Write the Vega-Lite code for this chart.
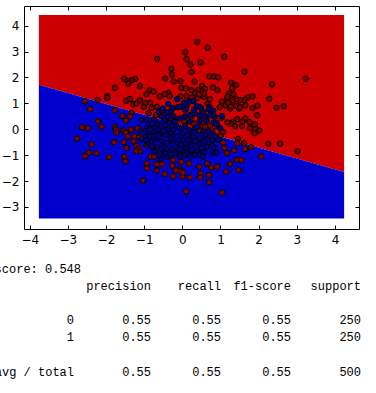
{
  "$schema": "https://vega.github.io/schema/vega-lite/v6.json",
  "autosize": {"type": "none"},
  "padding": {"left": 24, "top": 6, "right": 17, "bottom": 164},
  "width": 335,
  "height": 223,
  "background": "white",
  "config": {
    "view": {"stroke": "black", "strokeWidth": 1},
    "axis": {"grid": false, "domain": false, "tickColor": "black", "tickWidth": 1, "tickSize": -4, "labelPadding": 9, "labelColor": "black", "labelFont": "DejaVu Sans", "labelFontSize": 12, "labelFlush": false, "labelOverlap": false, "labelBound": false, "title": null}
  },
  "datasets": {
    "regions": [
      {"x": -3.76, "lo": 1.715, "hi": 4.41, "region": "1"},
      {"x": 4.24, "lo": -1.65, "hi": 4.41, "region": "1"},
      {"x": -3.76, "lo": -3.44, "hi": 1.715, "region": "0"},
      {"x": 4.24, "lo": -3.44, "hi": -1.65, "region": "0"}
    ],
    "points": [
      {"x":0.39,"y":3.38,"label":"1"},{"x":0.66,"y":3.15,"label":"1"},{"x":0.08,"y":2.97,"label":"1"},{"x":1.10,"y":2.80,"label":"1"},{"x":-0.66,"y":2.72,"label":"1"},{"x":0.11,"y":2.71,"label":"1"},{"x":0.48,"y":2.58,"label":"1"},{"x":0.21,"y":2.50,"label":"1"},{"x":-0.29,"y":2.34,"label":"1"},{"x":0.24,"y":2.21,"label":"1"},{"x":1.63,"y":2.22,"label":"1"},{"x":-0.27,"y":2.12,"label":"1"},{"x":0.71,"y":2.04,"label":"1"},{"x":0.83,"y":2.04,"label":"1"},{"x":0.94,"y":2.00,"label":"1"},{"x":3.23,"y":1.95,"label":"1"},{"x":-0.45,"y":1.96,"label":"1"},{"x":-1.53,"y":1.95,"label":"1"},{"x":-1.24,"y":1.94,"label":"1"},{"x":-1.33,"y":1.89,"label":"1"},{"x":-1.42,"y":1.86,"label":"1"},
      {"x":-0.23,"y":1.85,"label":"1"},{"x":-0.05,"y":1.86,"label":"1"},{"x":0.32,"y":1.84,"label":"1"},{"x":1.28,"y":1.80,"label":"1"},{"x":1.37,"y":1.71,"label":"1"},{"x":1.41,"y":1.71,"label":"1"},{"x":2.35,"y":1.73,"label":"1"},{"x":-1.41,"y":1.76,"label":"1"},{"x":-0.02,"y":1.60,"label":"1"},{"x":0.52,"y":1.67,"label":"1"},{"x":0.80,"y":1.62,"label":"1"},{"x":-1.11,"y":1.67,"label":"1"},{"x":-1.77,"y":1.60,"label":"1"},{"x":0.92,"y":1.51,"label":"1"},{"x":0.24,"y":1.51,"label":"1"},{"x":0.41,"y":1.51,"label":"1"},{"x":-0.86,"y":1.51,"label":"1"},{"x":-0.75,"y":1.46,"label":"1"},{"x":-0.37,"y":1.40,"label":"1"},{"x":-0.94,"y":1.35,"label":"1"},{"x":-0.59,"y":1.27,"label":"1"},{"x":-0.33,"y":1.28,"label":"1"},{"x":-0.05,"y":1.27,"label":"1"},{"x":0.57,"y":1.26,"label":"1"},{"x":1.23,"y":1.39,"label":"1"},{"x":1.34,"y":1.35,"label":"1"},{"x":-1.97,"y":1.28,"label":"1"},{"x":-1.97,"y":1.21,"label":"1"},{"x":-2.22,"y":1.13,"label":"1"},{"x":-2.55,"y":1.08,"label":"1"},{"x":-1.47,"y":1.10,"label":"1"},{"x":-1.37,"y":1.17,"label":"1"},{"x":-1.11,"y":1.12,"label":"1"},{"x":2.28,"y":1.18,"label":"1"},{"x":1.72,"y":1.23,"label":"1"},{"x":1.84,"y":1.26,"label":"1"},{"x":1.63,"y":1.13,"label":"1"},{"x":1.51,"y":1.12,"label":"1"},{"x":1.41,"y":1.16,"label":"1"},{"x":1.18,"y":1.17,"label":"1"},{"x":1.04,"y":1.07,"label":"1"},{"x":-1.28,"y":0.96,"label":"1"},{"x":-1.20,"y":0.99,"label":"1"},{"x":-0.97,"y":1.01,"label":"1"},{"x":-0.84,"y":1.03,"label":"1"},{"x":-1.01,"y":0.86,"label":"1"},{"x":-0.80,"y":0.83,"label":"1"},{"x":-0.67,"y":0.87,"label":"1"},{"x":-2.42,"y":0.78,"label":"1"},{"x":2.47,"y":0.83,"label":"1"},{"x":2.66,"y":0.89,"label":"1"},{"x":-1.77,"y":0.73,"label":"1"},{"x":0.98,"y":0.85,"label":"1"},{"x":1.25,"y":0.80,"label":"1"},{"x":1.49,"y":0.80,"label":"1"},{"x":1.84,"y":0.82,"label":"1"},{"x":1.97,"y":0.91,"label":"1"},{"x":1.65,"y":0.92,"label":"1"},{"x":1.14,"y":0.92,"label":"1"},{"x":0.66,"y":1.00,"label":"1"},{"x":0.40,"y":1.21,"label":"1"},{"x":-1.33,"y":0.63,"label":"1"},{"x":-1.57,"y":0.51,"label":"1"},{"x":-1.37,"y":0.50,"label":"1"},{"x":-1.48,"y":0.33,"label":"1"},{"x":-2.21,"y":0.31,"label":"1"},{"x":-2.63,"y":0.08,"label":"1"},{"x":-2.48,"y":0.05,"label":"1"},{"x":-2.12,"y":0.10,"label":"1"},{"x":-2.76,"y":-0.36,"label":"1"},{"x":-1.76,"y":0.09,"label":"1"},{"x":-1.74,"y":0.00,"label":"1"},{"x":-1.73,"y":-0.13,"label":"1"},{"x":-1.54,"y":-0.05,"label":"1"},{"x":-1.35,"y":-0.01,"label":"1"},{"x":-1.17,"y":0.04,"label":"1"},{"x":-1.48,"y":-0.13,"label":"1"},{"x":-1.43,"y":-0.28,"label":"1"},{"x":-1.25,"y":-0.27,"label":"1"},{"x":-1.13,"y":-0.31,"label":"1"},{"x":-1.79,"y":-0.50,"label":"1"},{"x":-1.54,"y":-0.50,"label":"1"},{"x":-2.38,"y":-0.58,"label":"1"},{"x":-1.28,"y":-0.46,"label":"1"},{"x":-1.20,"y":-0.64,"label":"1"},{"x":-1.46,"y":-0.72,"label":"1"},{"x":-1.15,"y":-0.74,"label":"1"},{"x":-1.11,"y":-0.85,"label":"1"},{"x":-1.21,"y":-0.85,"label":"1"},{"x":-0.94,"y":-0.60,"label":"1"},{"x":-2.45,"y":-0.90,"label":"1"},{"x":-2.25,"y":-0.92,"label":"1"},{"x":-2.55,"y":-1.04,"label":"1"},{"x":-1.92,"y":-1.08,"label":"1"},{"x":-1.52,"y":-1.07,"label":"1"},{"x":-1.49,"y":-1.23,"label":"1"},{"x":-1.03,"y":-1.98,"label":"1"},{"x":-0.83,"y":-1.07,"label":"1"},{"x":-0.74,"y":-1.05,"label":"1"},{"x":-0.93,"y":-1.32,"label":"1"},{"x":-0.93,"y":-1.50,"label":"1"},{"x":-0.67,"y":-1.35,"label":"1"},{"x":-0.53,"y":-1.35,"label":"1"},{"x":-0.67,"y":-1.59,"label":"1"},{"x":-0.46,"y":-1.73,"label":"1"},{"x":-0.24,"y":-1.19,"label":"1"},{"x":-0.03,"y":-1.26,"label":"1"},{"x":-0.07,"y":-1.54,"label":"1"},{"x":-0.17,"y":-1.59,"label":"1"},{"x":-0.04,"y":-1.60,"label":"1"},{"x":-0.24,"y":-1.82,"label":"1"},{"x":0.00,"y":-1.82,"label":"1"},{"x":0.02,"y":-1.67,"label":"1"},{"x":0.17,"y":-1.32,"label":"1"},{"x":0.19,"y":-1.86,"label":"1"},{"x":0.10,"y":-2.40,"label":"1"},{"x":0.44,"y":-1.44,"label":"1"},{"x":0.48,"y":-1.71,"label":"1"},{"x":0.47,"y":-1.86,"label":"1"},{"x":0.65,"y":-1.32,"label":"1"},{"x":0.70,"y":-1.77,"label":"1"},{"x":0.70,"y":-2.05,"label":"1"},{"x":0.76,"y":-1.48,"label":"1"},{"x":0.91,"y":-1.44,"label":"1"},{"x":1.04,"y":-2.44,"label":"1"},{"x":1.15,"y":-1.63,"label":"1"},{"x":1.25,"y":-1.34,"label":"1"},{"x":1.43,"y":-1.18,"label":"1"},{"x":1.55,"y":-1.19,"label":"1"},{"x":1.48,"y":-1.57,"label":"1"},{"x":1.36,"y":-0.81,"label":"1"},{"x":1.17,"y":-0.92,"label":"1"},{"x":1.10,"y":-0.72,"label":"1"},{"x":1.07,"y":-0.51,"label":"1"},{"x":1.46,"y":-0.37,"label":"1"},{"x":1.44,"y":-0.54,"label":"1"},{"x":1.64,"y":-0.77,"label":"1"},{"x":1.80,"y":-0.69,"label":"1"},{"x":1.62,"y":-0.54,"label":"1"},{"x":2.07,"y":-1.05,"label":"1"},{"x":2.25,"y":-0.56,"label":"1"},{"x":2.56,"y":-0.56,"label":"1"},{"x":3.02,"y":-0.85,"label":"1"},{"x":1.96,"y":-0.03,"label":"1"},{"x":2.02,"y":-0.05,"label":"1"},{"x":1.89,"y":-0.15,"label":"1"},{"x":1.90,"y":0.04,"label":"1"},{"x":1.77,"y":0.04,"label":"1"},{"x":1.76,"y":0.28,"label":"1"},{"x":1.90,"y":0.19,"label":"1"},{"x":1.96,"y":0.54,"label":"1"},{"x":1.65,"y":0.42,"label":"1"},{"x":1.56,"y":0.13,"label":"1"},{"x":1.57,"y":0.30,"label":"1"},{"x":1.44,"y":0.39,"label":"1"},{"x":1.32,"y":0.27,"label":"1"},{"x":1.38,"y":0.12,"label":"1"},{"x":1.27,"y":0.21,"label":"1"},{"x":1.18,"y":0.27,"label":"1"},{"x":1.03,"y":0.45,"label":"1"},{"x":0.93,"y":0.42,"label":"1"},{"x":1.01,"y":-0.22,"label":"1"},{"x":1.06,"y":-0.10,"label":"1"},{"x":0.84,"y":0.10,"label":"1"},{"x":0.72,"y":0.14,"label":"1"},{"x":0.53,"y":0.26,"label":"1"},{"x":0.59,"y":0.10,"label":"1"},{"x":0.45,"y":-0.04,"label":"1"},{"x":0.29,"y":0.23,"label":"1"},{"x":0.24,"y":0.49,"label":"1"},{"x":0.05,"y":0.30,"label":"1"},{"x":-0.21,"y":0.42,"label":"1"},{"x":-0.49,"y":0.55,"label":"1"},{"x":-0.69,"y":0.55,"label":"1"},{"x":-0.88,"y":0.62,"label":"1"},{"x":0.75,"y":0.68,"label":"1"},{"x":0.51,"y":0.62,"label":"1"},
      {"x":0.59,"y":1.56,"label":"1"},{"x":1.31,"y":1.58,"label":"1"},{"x":0.09,"y":1.58,"label":"1"},{"x":0.34,"y":1.41,"label":"1"},{"x":0.44,"y":1.36,"label":"1"},{"x":0.57,"y":1.38,"label":"1"},{"x":-0.46,"y":1.36,"label":"1"},{"x":0.11,"y":1.29,"label":"1"},{"x":0.25,"y":1.22,"label":"1"},{"x":0.72,"y":1.16,"label":"1"},{"x":1.18,"y":1.26,"label":"1"},{"x":1.31,"y":1.11,"label":"1"},{"x":1.21,"y":1.01,"label":"1"},{"x":1.27,"y":0.87,"label":"1"},{"x":1.42,"y":0.90,"label":"1"},{"x":1.51,"y":0.85,"label":"1"},{"x":-0.26,"y":-1.41,"label":"1"},
      {"x":-0.51,"y":0.80,"label":"0"},{"x":-0.29,"y":0.73,"label":"0"},{"x":-0.12,"y":0.85,"label":"0"},{"x":-0.05,"y":0.87,"label":"0"},{"x":0.11,"y":0.87,"label":"0"},{"x":0.29,"y":1.09,"label":"0"},{"x":-0.14,"y":1.16,"label":"0"},{"x":0.71,"y":0.87,"label":"0"},{"x":0.69,"y":0.78,"label":"0"},{"x":0.21,"y":0.55,"label":"0"},{"x":0.46,"y":0.51,"label":"0"},{"x":0.59,"y":0.49,"label":"0"},{"x":0.73,"y":0.55,"label":"0"},{"x":0.84,"y":0.49,"label":"0"},{"x":1.04,"y":0.51,"label":"0"},{"x":0.08,"y":0.74,"label":"0"},{"x":-0.24,"y":0.51,"label":"0"},{"x":-0.37,"y":0.49,"label":"0"},{"x":-0.54,"y":0.49,"label":"0"},{"x":-0.74,"y":0.36,"label":"0"},{"x":-0.94,"y":0.36,"label":"0"},{"x":-1.08,"y":0.35,"label":"0"},{"x":-0.66,"y":0.21,"label":"0"},{"x":-0.79,"y":0.21,"label":"0"},{"x":-0.90,"y":0.10,"label":"0"},{"x":-0.73,"y":0.04,"label":"0"},{"x":-0.56,"y":0.10,"label":"0"},{"x":-0.47,"y":0.36,"label":"0"},{"x":-0.34,"y":0.26,"label":"0"},{"x":-0.17,"y":0.18,"label":"0"},{"x":-0.08,"y":0.04,"label":"0"},{"x":0.07,"y":0.13,"label":"0"},{"x":0.18,"y":-0.03,"label":"0"},{"x":0.33,"y":0.04,"label":"0"},{"x":0.55,"y":-0.09,"label":"0"},{"x":0.69,"y":-0.09,"label":"0"},{"x":0.79,"y":-0.15,"label":"0"},{"x":0.87,"y":-0.28,"label":"0"},{"x":0.64,"y":-0.28,"label":"0"},{"x":0.46,"y":-0.35,"label":"0"},{"x":0.29,"y":-0.28,"label":"0"},{"x":0.15,"y":-0.41,"label":"0"},{"x":0.01,"y":-0.41,"label":"0"},{"x":-0.15,"y":-0.28,"label":"0"},{"x":-0.29,"y":-0.15,"label":"0"},{"x":-0.44,"y":-0.22,"label":"0"},{"x":-0.59,"y":-0.15,"label":"0"},{"x":-0.67,"y":-0.35,"label":"0"},{"x":-0.85,"y":-0.28,"label":"0"},{"x":-0.97,"y":-0.28,"label":"0"},{"x":-1.08,"y":-0.05,"label":"0"},{"x":-0.97,"y":-0.09,"label":"0"},{"x":-0.78,"y":-0.09,"label":"0"},{"x":-0.75,"y":-0.28,"label":"0"},{"x":-0.52,"y":-0.47,"label":"0"},{"x":-0.41,"y":-0.54,"label":"0"},{"x":-0.28,"y":-0.47,"label":"0"},{"x":-0.15,"y":-0.54,"label":"0"},{"x":-0.02,"y":-0.63,"label":"0"},{"x":0.11,"y":-0.64,"label":"0"},{"x":0.24,"y":-0.60,"label":"0"},{"x":0.42,"y":-0.54,"label":"0"},{"x":0.55,"y":-0.47,"label":"0"},{"x":0.73,"y":-0.54,"label":"0"},{"x":0.78,"y":-0.41,"label":"0"},{"x":0.64,"y":-0.67,"label":"0"},{"x":0.51,"y":-0.73,"label":"0"},{"x":0.38,"y":-0.80,"label":"0"},{"x":0.24,"y":-0.80,"label":"0"},{"x":0.11,"y":-0.86,"label":"0"},{"x":0.01,"y":-0.86,"label":"0"},{"x":-0.12,"y":-0.82,"label":"0"},{"x":-0.26,"y":-0.77,"label":"0"},{"x":-0.41,"y":-0.80,"label":"0"},{"x":-0.54,"y":-0.73,"label":"0"},{"x":-0.67,"y":-0.67,"label":"0"},{"x":-0.80,"y":-0.67,"label":"0"},{"x":-0.90,"y":-0.54,"label":"0"},{"x":-0.96,"y":-0.41,"label":"0"},{"x":-0.74,"y":-0.86,"label":"0"},{"x":-0.60,"y":-0.92,"label":"0"},{"x":-0.45,"y":-0.92,"label":"0"},{"x":-0.32,"y":-0.99,"label":"0"},{"x":-0.19,"y":-0.92,"label":"0"},{"x":-0.06,"y":-1.03,"label":"0"},{"x":0.07,"y":-0.99,"label":"0"},{"x":0.20,"y":-1.03,"label":"0"},{"x":0.33,"y":-0.99,"label":"0"},{"x":0.46,"y":-0.99,"label":"0"},{"x":0.57,"y":-0.90,"label":"0"},{"x":0.78,"y":-0.90,"label":"0"},{"x":0.55,"y":-1.05,"label":"0"},{"x":-0.58,"y":-1.12,"label":"0"},{"x":-0.41,"y":-1.08,"label":"0"},{"x":0.78,"y":-0.63,"label":"0"},{"x":0.94,"y":-0.41,"label":"0"},{"x":0.99,"y":0.04,"label":"0"},{"x":0.82,"y":0.26,"label":"0"},{"x":0.64,"y":0.33,"label":"0"},{"x":0.45,"y":0.30,"label":"0"},{"x":0.33,"y":0.62,"label":"0"},{"x":0.07,"y":0.49,"label":"0"},{"x":-0.06,"y":0.42,"label":"0"},{"x":-0.24,"y":0.00,"label":"0"},{"x":-0.37,"y":0.00,"label":"0"},{"x":-0.50,"y":-0.05,"label":"0"},{"x":0.00,"y":-0.15,"label":"0"},{"x":0.16,"y":-0.22,"label":"0"},{"x":0.31,"y":-0.13,"label":"0"},{"x":-0.80,"y":-0.47,"label":"0"},{"x":-1.07,"y":-0.39,"label":"0"},{"x":0.86,"y":-0.73,"label":"0"},{"x":0.90,"y":-0.92,"label":"0"},{"x":0.81,"y":0.71,"label":"0"},{"x":0.49,"y":0.83,"label":"0"},{"x":0.38,"y":0.90,"label":"0"},
      {"x":-0.37,"y":0.98,"label":"0"},{"x":0.18,"y":1.06,"label":"0"},{"x":0.05,"y":1.03,"label":"0"},{"x":-0.25,"y":0.82,"label":"0"},{"x":0.46,"y":0.85,"label":"0"},{"x":-0.20,"y":0.30,"label":"0"},{"x":0.20,"y":0.30,"label":"0"},{"x":-0.40,"y":0.65,"label":"0"},{"x":0.30,"y":0.75,"label":"0"},{"x":-0.62,"y":-0.25,"label":"0"},{"x":0.40,"y":0.10,"label":"0"},{"x":-0.30,"y":-0.35,"label":"0"},{"x":0.10,"y":-0.55,"label":"0"},{"x":0.60,"y":-0.20,"label":"0"},{"x":-0.85,"y":0.00,"label":"0"},{"x":0.90,"y":0.20,"label":"0"},{"x":-0.62,"y":0.68,"label":"0"},{"x":-0.45,"y":0.15,"label":"0"},{"x":0.55,"y":0.65,"label":"0"},{"x":-0.05,"y":-0.78,"label":"0"},{"x":0.35,"y":-0.45,"label":"0"}
    ],
    "report": [
      {"t": "score: 0.548", "col": 12, "line": 0},
      {"t": "precision", "col": 22, "line": 1},
      {"t": "recall", "col": 32, "line": 1},
      {"t": "f1-score", "col": 42, "line": 1},
      {"t": "support", "col": 52, "line": 1},
      {"t": "0", "col": 11, "line": 3},
      {"t": "0.55", "col": 22, "line": 3},
      {"t": "0.55", "col": 32, "line": 3},
      {"t": "0.55", "col": 42, "line": 3},
      {"t": "250", "col": 52, "line": 3},
      {"t": "1", "col": 11, "line": 4},
      {"t": "0.55", "col": 22, "line": 4},
      {"t": "0.55", "col": 32, "line": 4},
      {"t": "0.55", "col": 42, "line": 4},
      {"t": "250", "col": 52, "line": 4},
      {"t": "avg / total", "col": 11, "line": 6},
      {"t": "0.55", "col": 22, "line": 6},
      {"t": "0.55", "col": 32, "line": 6},
      {"t": "0.55", "col": 42, "line": 6},
      {"t": "500", "col": 52, "line": 6}
    ]
  },
  "layer": [
    {
      "data": {"name": "regions"},
      "mark": {"type": "area", "opacity": 1},
      "encoding": {
        "x": {"field": "x", "type": "quantitative", "scale": {"domain": [-4.15, 4.63], "nice": false, "zero": false}, "axis": {"orient": "top", "labels": false, "values": [-4, -3, -2, -1, 0, 1, 2, 3, 4]}},
        "y": {"field": "lo", "type": "quantitative", "stack": null, "scale": {"domain": [-3.85, 4.76], "nice": false, "zero": false}, "axis": {"orient": "right", "labels": false, "values": [-3, -2, -1, 0, 1, 2, 3, 4]}},
        "y2": {"field": "hi"},
        "fill": {"field": "region", "type": "nominal", "scale": {"domain": ["0", "1"], "range": ["#0000cc", "#cc0000"]}, "legend": null}
      }
    },
    {
      "data": {"name": "points"},
      "mark": {"type": "point", "shape": "circle", "filled": true, "size": 30, "stroke": "black", "strokeWidth": 1, "opacity": 1, "strokeOpacity": 1},
      "encoding": {
        "x": {"field": "x", "type": "quantitative", "scale": {"domain": [-4.15, 4.63], "nice": false, "zero": false}, "axis": {"orient": "bottom", "values": [-4, -3, -2, -1, 0, 1, 2, 3, 4]}},
        "y": {"field": "y", "type": "quantitative", "scale": {"domain": [-3.85, 4.76], "nice": false, "zero": false}, "axis": {"orient": "left", "values": [-3, -2, -1, 0, 1, 2, 3, 4]}},
        "fill": {"field": "label", "type": "nominal", "scale": {"domain": ["0", "1"], "range": ["#000080", "#800000"]}, "legend": null}
      }
    },
    {
      "data": {"name": "report"},
      "mark": {"type": "text", "align": "right", "baseline": "middle", "font": "Liberation Mono", "fontSize": 12, "color": "black"},
      "encoding": {
        "x": {"field": "col", "type": "quantitative", "scale": {"domain": [3.857, 51.714], "nice": false, "zero": false}, "axis": null},
        "y": {"field": "line", "type": "quantitative", "scale": {"domain": [-15.38, -2.34], "nice": false, "zero": false, "reverse": true}, "axis": null},
        "text": {"field": "t", "type": "nominal"}
      }
    }
  ],
  "resolve": {"scale": {"x": "independent", "y": "independent", "fill": "independent"}}
}
